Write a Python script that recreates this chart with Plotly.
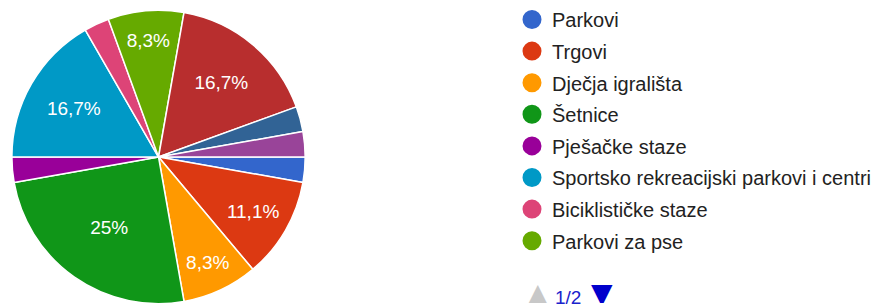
import plotly.graph_objects as go

# ---- data ----
labels = ["Parkovi", "Trgovi", "Dječja igrališta", "Šetnice", "Pješačke staze",
          "Sportsko rekreacijski parkovi i centri", "Biciklističke staze", "Parkovi za pse",
          "Zelene površine", "Kupališta", "Vidikovci"]
values = [1, 4, 3, 9, 1, 6, 1, 3, 6, 1, 1]
colors = ["#3366cc", "#dc3912", "#ff9900", "#109618", "#990099", "#0099c6",
          "#dd4477", "#66aa00", "#b82e2e", "#316395", "#994499"]
legend_page_count = 8
page_label = "1/2"

total = sum(values)


def fmt(v):
    p = v / total * 100
    if p < 5:
        return ""
    s = f"{p:.1f}".rstrip("0").rstrip(".")
    return s.replace(".", ",") + "%"


texts = [fmt(v) for v in values]

W, H = 876, 307
FONT = "Liberation Sans, Arial, sans-serif"
fig = go.Figure()

fig.add_trace(go.Pie(
    labels=labels, values=values, text=texts, textinfo="text",
    textposition="inside", insidetextorientation="horizontal",
    sort=False, direction="clockwise", rotation=90,
    marker=dict(colors=colors, line=dict(color="white", width=1.5)),
    textfont=dict(color="white", size=19, family=FONT),
    domain=dict(x=[12 / W, 308 / W], y=[2 / H, 298 / H]),
    showlegend=False, hoverinfo="label+percent",
))

# legend entries (first page of the legend)
for i in range(legend_page_count):
    fig.add_trace(go.Scatter(
        x=[None], y=[None], mode="markers", name=labels[i],
        marker=dict(color=colors[i], size=16, symbol="circle",
                    line=dict(color=colors[i], width=3)),
        legendgroup=f"g{i}", showlegend=True,
    ))

fig.update_layout(
    width=W, height=H, margin=dict(l=0, r=0, t=0, b=0),
    paper_bgcolor="white", plot_bgcolor="white",
    xaxis=dict(visible=False), yaxis=dict(visible=False),
    legend=dict(x=517 / W, y=1, xanchor="left", yanchor="top",
                font=dict(size=20, color="#222222", family=FONT),
                tracegroupgap=2.6, traceorder="grouped", bgcolor="rgba(0,0,0,0)"),
    annotations=[
        dict(text="▲", x=543 / W, y=1 - 293 / H, xref="paper", yref="paper",
             showarrow=False, font=dict(size=28, color="#c8c8c8", family="DejaVu Sans"),
             xanchor="center", yanchor="middle", height=20, width=24),
        dict(text=page_label, x=558 / W, y=1 - 297 / H, xref="paper", yref="paper",
             showarrow=False, font=dict(size=19, color="#1a22cc", family=FONT),
             xanchor="left", yanchor="middle"),
        dict(text="▼", x=608 / W, y=1 - 293 / H, xref="paper", yref="paper",
             showarrow=False, font=dict(size=28, color="#0000cc", family="DejaVu Sans"),
             xanchor="center", yanchor="middle", height=20, width=24),
    ],
)

fig.write_html("out.html", config={"displayModeBar": False},
               post_script="document.body.style.margin='0';")
